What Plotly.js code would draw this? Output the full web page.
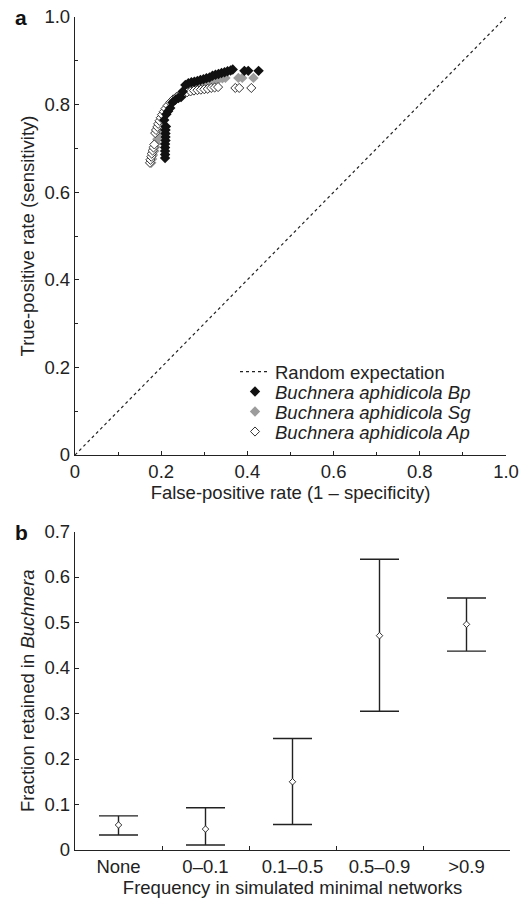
<!DOCTYPE html>
<html>
<head>
<meta charset="utf-8">
<script src="https://cdn.plot.ly/plotly-3.0.1.min.js"></script>
<style>html,body{margin:0;padding:0;background:#fff;}#chart{width:531px;height:899px;}</style>
</head>
<body>
<div id="chart"></div>
<script>
// Panel a: ROC data
const bpX = [0.209,0.209,0.209,0.209,0.209,0.210,0.210,0.210,0.210,0.211,0.207,0.212,0.216,0.221,0.226,0.233,0.240,0.246,0.250,0.256,0.263,0.270,0.277,0.284,0.291,0.298,0.305,0.312,0.319,0.326,0.333,0.340,0.347,0.354,0.361,0.366,0.393,0.402,0.426];
const bpY = [0.678,0.686,0.694,0.702,0.710,0.718,0.726,0.734,0.742,0.750,0.765,0.778,0.785,0.792,0.805,0.811,0.815,0.817,0.830,0.845,0.849,0.851,0.852,0.854,0.856,0.858,0.860,0.862,0.866,0.868,0.870,0.872,0.874,0.876,0.878,0.880,0.877,0.877,0.877];
const sgX = [0.177,0.179,0.181,0.184,0.186,0.188,0.191,0.195,0.198,0.202,0.205,0.209,0.214,0.220,0.227,0.235,0.244,0.253,0.262,0.270,0.279,0.288,0.297,0.306,0.315,0.324,0.333,0.342,0.349,0.379,0.388,0.414];
const sgY = [0.667,0.676,0.685,0.694,0.703,0.712,0.721,0.735,0.747,0.760,0.772,0.782,0.790,0.798,0.806,0.815,0.824,0.830,0.835,0.838,0.840,0.842,0.845,0.849,0.852,0.855,0.858,0.860,0.861,0.861,0.861,0.861];
const apX = [0.174,0.175,0.177,0.178,0.180,0.182,0.184,0.186,0.188,0.191,0.193,0.196,0.199,0.202,0.206,0.210,0.215,0.221,0.228,0.236,0.244,0.252,0.260,0.268,0.276,0.284,0.292,0.300,0.308,0.316,0.324,0.332,0.372,0.381,0.409];
const apY = [0.667,0.674,0.681,0.688,0.695,0.702,0.709,0.735,0.742,0.749,0.756,0.763,0.770,0.777,0.784,0.791,0.798,0.805,0.812,0.818,0.822,0.825,0.828,0.830,0.832,0.833,0.834,0.835,0.836,0.838,0.839,0.840,0.838,0.838,0.838];
const randomX = [0, 1];
const randomY = [0, 1];
const rocTickVals = [0, 0.2, 0.4, 0.6, 0.8, 1.0];
const rocTickText = ['0', '0.2', '0.4', '0.6', '0.8', '1.0'];
const rocMinorVals = [0.1, 0.3, 0.5, 0.7, 0.9];

// Panel b: fraction retained
const freqCategories = ['None', '0–0.1', '0.1–0.5', '0.5–0.9', '>0.9'];
const fracMean  = [0.055, 0.046, 0.150, 0.471, 0.496];
const fracUpper = [0.075, 0.093, 0.245, 0.639, 0.554];
const fracLower = [0.033, 0.011, 0.056, 0.305, 0.437];
const fracTickVals = [0, 0.1, 0.2, 0.3, 0.4, 0.5, 0.6, 0.7];
const fracTickText = ['0', '0.1', '0.2', '0.3', '0.4', '0.5', '0.6', '0.7'];

const FONT = 'Liberation Sans, Arial, Helvetica, sans-serif';
const INK = '#222';
const FS = 18.5;

const traces = [
  {x: randomX, y: randomY, mode: 'lines', name: 'Random expectation', legend: 'legend',
   line: {color: INK, width: 1.2, dash: 'dot'}, xaxis: 'x', yaxis: 'y'},
  {x: sgX, y: sgY, mode: 'markers', name: '<i>Buchnera aphidicola Sg</i>', legend: 'legend3',
   marker: {symbol: 'diamond', size: 8, color: '#9c9c9c', line: {width: 0}}, xaxis: 'x', yaxis: 'y'},
  {x: apX, y: apY, mode: 'markers', name: '<i>Buchnera aphidicola Ap</i>', legend: 'legend4',
   marker: {symbol: 'diamond', size: 7, color: '#ffffff', line: {width: 1, color: '#333'}}, xaxis: 'x', yaxis: 'y'},
  {x: bpX, y: bpY, mode: 'markers', name: '<i>Buchnera aphidicola Bp</i>', legend: 'legend2',
   marker: {symbol: 'diamond', size: 8, color: '#111', line: {width: 0}}, xaxis: 'x', yaxis: 'y'},
  {x: freqCategories, y: fracMean, mode: 'markers', showlegend: false,
   marker: {symbol: 'diamond', size: 5, color: '#fff', line: {width: 1, color: '#333'}},
   error_y: {type: 'data', symmetric: false,
     array: fracUpper.map((u, i) => u - fracMean[i]),
     arrayminus: fracLower.map((l, i) => fracMean[i] - l),
     color: INK, thickness: 1.4, width: 19.5},
   xaxis: 'x2', yaxis: 'y2'}
];

const axisCommon = {
  showline: true, linecolor: INK, linewidth: 1.2, showgrid: false, zeroline: false,
  ticks: 'inside', ticklen: 4, tickcolor: INK, tickwidth: 1,
  tickfont: {family: FONT, size: FS, color: INK}
};

function legendAt(py) {
  return {x: 235/531, y: (899 - py)/899, xanchor: 'left', yanchor: 'middle',
          bgcolor: 'rgba(0,0,0,0)', borderwidth: 0,
          font: {family: FONT, size: FS, color: INK}, tracegroupgap: 0};
}

const layout = {
  width: 531, height: 899,
  margin: {l: 0, r: 0, t: 0, b: 0},
  paper_bgcolor: '#fff', plot_bgcolor: '#fff',
  font: {family: FONT, color: INK},
  showlegend: true,
  legend: legendAt(372),
  legend2: legendAt(392),
  legend3: legendAt(412),
  legend4: legendAt(432),
  xaxis: Object.assign({}, axisCommon, {
    domain: [75/531, 506/531], range: [0, 1], anchor: 'y',
    tickmode: 'array', tickvals: rocTickVals, ticktext: rocTickText,
    minor: {tickmode: 'array', tickvals: rocMinorVals, ticks: 'inside', ticklen: 3, tickcolor: INK},
    title: {text: 'False-positive rate (1 – specificity)', font: {family: FONT, size: FS, color: INK}, standoff: 3}
  }),
  yaxis: Object.assign({}, axisCommon, {
    domain: [(899-455)/899, (899-17)/899], range: [0, 1], anchor: 'x',
    tickmode: 'array', tickvals: rocTickVals, ticktext: rocTickText,
    minor: {tickmode: 'array', tickvals: rocMinorVals, ticks: 'inside', ticklen: 3, tickcolor: INK},
    title: {text: 'True-positive rate (sensitivity)', font: {family: FONT, size: FS, color: INK}, standoff: 5}
  }),
  xaxis2: Object.assign({}, axisCommon, {
    domain: [75/531, 510/531], range: [-0.5, 4.5], anchor: 'y2', type: 'category',
    categoryorder: 'array', categoryarray: freqCategories, tickson: 'boundaries',
    title: {text: 'Frequency in simulated minimal networks', font: {family: FONT, size: FS, color: INK}, standoff: 2}
  }),
  yaxis2: Object.assign({}, axisCommon, {
    domain: [49/899, 367.5/899], range: [0, 0.7], anchor: 'x2',
    tickmode: 'array', tickvals: fracTickVals, ticktext: fracTickText,
    title: {text: 'Fraction retained in <i>Buchnera</i>', font: {family: FONT, size: FS, color: INK}, standoff: 5}
  }),
  annotations: [
    {text: '<b>a</b>', xref: 'paper', yref: 'paper', x: 21/531, y: (899-18)/899, xanchor: 'center', yanchor: 'middle', showarrow: false, font: {family: FONT, size: 21, color: '#111'}},
    {text: '<b>b</b>', xref: 'paper', yref: 'paper', x: 21/531, y: (899-532)/899, xanchor: 'center', yanchor: 'middle', showarrow: false, font: {family: FONT, size: 21, color: '#111'}}
  ]
};

Plotly.newPlot('chart', traces, layout, {staticPlot: true, displayModeBar: false});
</script>
</body>
</html>
